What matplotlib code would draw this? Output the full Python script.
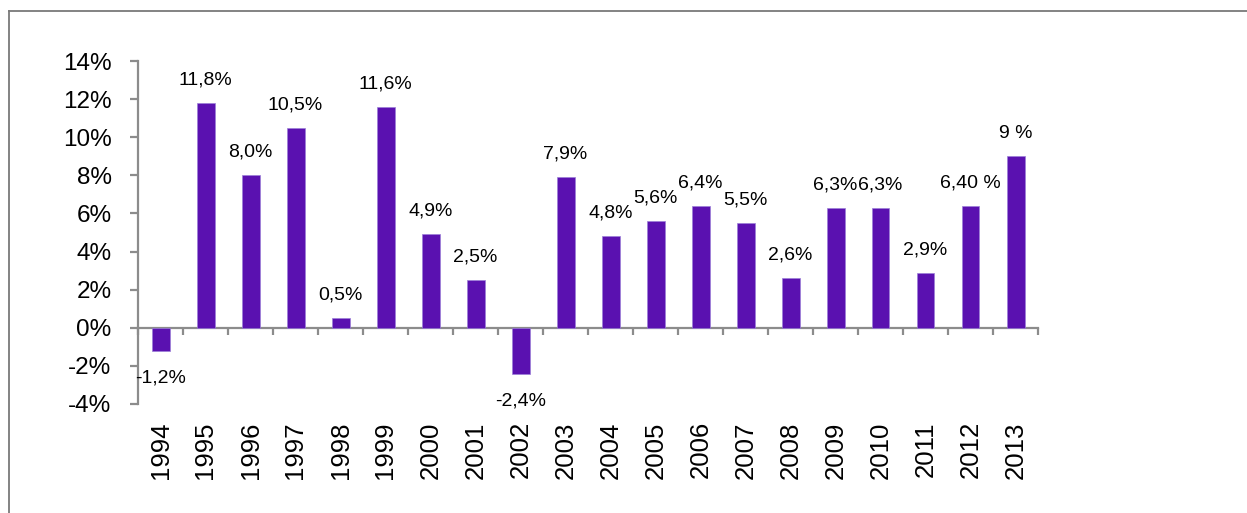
import matplotlib
matplotlib.use("Agg")
import matplotlib.pyplot as plt
import matplotlib.transforms as mtransforms
from matplotlib.lines import Line2D
import numpy as np

years = ["1994", "1995", "1996", "1997", "1998", "1999", "2000", "2001", "2002", "2003",
         "2004", "2005", "2006", "2007", "2008", "2009", "2010", "2011", "2012", "2013"]
values = [-1.2, 11.8, 8.0, 10.5, 0.5, 11.6, 4.9, 2.5, -2.4, 7.9,
          4.8, 5.6, 6.4, 5.5, 2.6, 6.3, 6.3, 2.9, 6.4, 9.0]
labels = ["-1,2%", "11,8%", "8,0%", "10,5%", "0,5%", "11,6%", "4,9%", "2,5%", "-2,4%", "7,9%",
          "4,8%", "5,6%", "6,4%", "5,5%", "2,6%", "6,3%", "6,3%", "2,9%", "6,40 %", "9 %"]
yticks = [-4, -2, 0, 2, 4, 6, 8, 10, 12, 14]
ytick_labels = ["-4%", "-2%", "0%", "2%", "4%", "6%", "8%", "10%", "12%", "14%"]

W, H = 1247, 513
fig = plt.figure(figsize=(W / 100, H / 100), dpi=100)
fig.patch.set_facecolor("white")
ax = fig.add_axes([138 / W, (H - 404) / H, 900 / W, 343 / H])

x = np.arange(len(years))
ax.bar(x, values, width=0.4, color="#5A11B0", edgecolor="#9B7FD8", linewidth=0.5, zorder=3)

ax.set_xlim(-0.5, len(years) - 0.5)
ax.set_ylim(-4, 14)

spine_col = "#8C8C8C"
for s in ["top", "right"]:
    ax.spines[s].set_visible(False)
ax.spines["left"].set_color(spine_col)
ax.spines["left"].set_linewidth(1.6)
ax.spines["bottom"].set_color(spine_col)
ax.spines["bottom"].set_linewidth(1.6)
ax.spines["bottom"].set_position(("data", 0))

ax.set_yticks(yticks)
ax.set_yticklabels(ytick_labels, fontsize=17.5, family=["Liberation Sans", "DejaVu Sans"])
ax.tick_params(axis="y", direction="out", length=6, width=1.6, color=spine_col, pad=13)

ax.set_xticks(np.arange(-0.5, len(years)), minor=True)
ax.set_xticks([])
ax.tick_params(axis="x", which="minor", direction="out", length=5, width=1.6, color=spine_col)

trans = mtransforms.blended_transform_factory(ax.transData, ax.transAxes)
for i, yr in enumerate(years):
    ax.text(i, -0.05, yr, transform=trans, rotation=90, ha="center", va="top",
            fontsize=18.5, family=["Liberation Sans", "DejaVu Sans"])

for i, (v, lab) in enumerate(zip(values, labels)):
    off = 16.5 if v >= 0 else -19.5
    ax.annotate(lab, (i, v), xytext=(0, off), textcoords="offset points",
                ha="center", va="center", fontsize=14,
                family=["Liberation Sans", "DejaVu Sans"])

# outer frame (top and left edges)
fig.add_artist(Line2D([8.5 / W, 8.5 / W], [0, 1 - 10.5 / H], transform=fig.transFigure,
                      color="#7A7A7A", linewidth=1.3))
fig.add_artist(Line2D([8.5 / W, 1], [1 - 10.5 / H, 1 - 10.5 / H], transform=fig.transFigure,
                      color="#7A7A7A", linewidth=1.3))

fig.savefig("out.png", dpi=100)
